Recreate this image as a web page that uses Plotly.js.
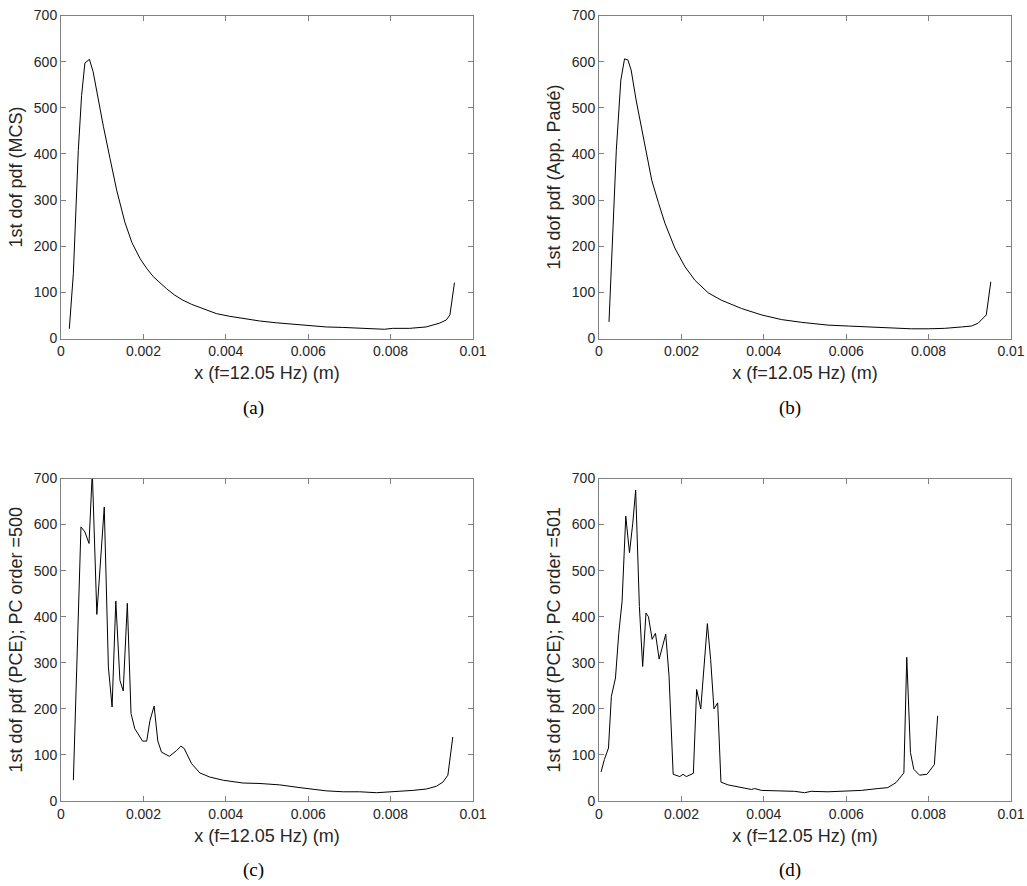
<!DOCTYPE html>
<html>
<head>
<meta charset="utf-8">
<script src="https://cdn.plot.ly/plotly-3.0.1.min.js"></script>
<style>html,body{margin:0;padding:0;background:#fff;}#chart{width:1027px;height:886px;}</style>
</head>
<body>
<div id="chart"></div>
<script>
// Panel (a): MCS
const xA = [0.000202,0.0003,0.00042,0.0005,0.00058,0.00069,0.00078,0.00091,0.00103,0.00119,0.00135,0.00155,0.00172,0.00192,0.00208,0.00224,0.00240,0.00256,0.00276,0.00296,0.00317,0.00337,0.00361,0.00377,0.0041,0.0045,0.00482,0.00523,0.00563,0.00603,0.00644,0.00684,0.00725,0.00765,0.00785,0.00805,0.00846,0.00886,0.00906,0.00918,0.00935,0.00944,0.00955];
const yA = [21,141,408,527,597,605,578,513,459,390,322,252,208,173,152,134,120,108,94,83,74,67,60,54,48,42,38,34,31,27,25,24,22,21,20,22,22,25,29,33,40,51,121];

// Panel (b): App. Padé
const xB = [0.000243,0.00042,0.00053,0.00062,0.0007,0.00078,0.0009,0.00103,0.00116,0.00128,0.00144,0.0016,0.00184,0.00209,0.00233,0.00265,0.00297,0.00346,0.00395,0.00443,0.00492,0.00556,0.00605,0.00653,0.00677,0.00718,0.00758,0.00799,0.00839,0.0088,0.00904,0.0092,0.0094,0.00951];
const yB = [36,408,560,606,604,582,517,459,396,343,295,250,196,155,126,99,83,65,51,41,35,29,27,25,23,22,21,21,22,25,27,33,51,123];

// Panel (c): PCE, PC order = 500
const xC = [0.0003,0.000485,0.00058,0.00068,0.00076,0.00087,0.00105,0.00115,0.00124,0.00133,0.00143,0.00151,0.00161,0.0017,0.00179,0.00198,0.00208,0.00216,0.00226,0.00235,0.00244,0.00263,0.0028,0.00291,0.00299,0.00317,0.00337,0.00361,0.00394,0.00442,0.00483,0.00531,0.0058,0.00612,0.00644,0.00685,0.00725,0.00766,0.00806,0.00822,0.00854,0.00887,0.00911,0.00927,0.00939,0.00951];
const yC = [45,595,584,559,715,405,638,291,204,434,262,239,429,190,157,130,130,175,206,130,106,97,109,119,114,81,61,52,45,39,38,35,29,26,22,20,20,18,20,21,23,26,32,41,56,139];

// Panel (d): PCE, PC order = 501
const xD = [0.00005,0.00013,0.00023,0.0003,0.0004,0.00048,0.00056,0.00065,0.00074,0.00082,0.00089,0.00098,0.00106,0.00114,0.0012,0.00129,0.00137,0.00146,0.00162,0.0017,0.0018,0.00196,0.00204,0.00212,0.00229,0.00237,0.00247,0.00263,0.00271,0.00279,0.00288,0.00296,0.00313,0.00338,0.0037,0.00378,0.00394,0.00435,0.00475,0.00499,0.00515,0.00556,0.00596,0.00637,0.00677,0.00701,0.00721,0.0074,0.00747,0.00756,0.00764,0.00778,0.00796,0.00814,0.00822];
const yD = [63,90,115,227,267,364,433,618,539,603,675,422,292,408,400,351,364,308,362,271,58,53,58,53,60,242,200,385,307,200,213,41,35,30,25,27,23,22,21,18,21,20,22,23,27,29,40,61,312,105,69,56,58,79,185];

const yTitles = ['1st dof pdf (MCS)', '1st dof pdf (App. Padé)', '1st dof pdf (PCE); PC order =500', '1st dof pdf (PCE); PC order =501'];
const xTitle = 'x (f=12.05 Hz) (m)';
const captions = ['(a)', '(b)', '(c)', '(d)'];
const xTickVals = [0, 0.002, 0.004, 0.006, 0.008, 0.01];
const xTickText = ['0', '0.002', '0.004', '0.006', '0.008', '0.01'];
const yTickVals = [0, 100, 200, 300, 400, 500, 600, 700];

const series = [[xA, yA], [xB, yB], [xC, yC], [xD, yD]];
const W = 1027, H = 886;
const xDom = [[61 / W, 473 / W], [599 / W, 1011 / W]];
const yDom = [[1 - 338.5 / H, 1 - 15.5 / H], [1 - 801 / H, 1 - 478.5 / H]];
const capPos = [[253, 408], [790, 408], [253, 870], [790, 870]];

const SANS = 'Arial, Liberation Sans, sans-serif';
const SERIF = 'Times New Roman, Liberation Serif, serif';
const traces = [];
const layout = {
  width: W, height: H,
  margin: {l: 0, r: 0, t: 0, b: 0},
  paper_bgcolor: '#fff', plot_bgcolor: '#fff',
  showlegend: false,
  font: {family: SANS, size: 14, color: '#262626'},
  annotations: []
};

series.forEach((s, i) => {
  const n = i + 1;
  const xa = n === 1 ? 'x' : 'x' + n;
  const ya = n === 1 ? 'y' : 'y' + n;
  traces.push({x: s[0], y: s[1], xaxis: xa, yaxis: ya, type: 'scatter', mode: 'lines',
    line: {color: '#000', width: 1}, hoverinfo: 'skip'});
  const col = i % 2, row = Math.floor(i / 2);
  const common = {showline: true, linecolor: '#808080', linewidth: 1, mirror: 'ticks',
    ticks: 'inside', ticklen: 5, tickcolor: '#808080', showgrid: false, zeroline: false,
    tickfont: {family: SANS, size: 14, color: '#262626'}, fixedrange: true};
  layout['xaxis' + (n === 1 ? '' : n)] = Object.assign({}, common, {
    domain: xDom[col], anchor: ya, range: [0, 0.01],
    tickmode: 'array', tickvals: xTickVals, ticktext: xTickText,
    title: {text: xTitle, font: {family: SANS, size: 18, color: '#262626'}, standoff: 8}
  });
  layout['yaxis' + (n === 1 ? '' : n)] = Object.assign({}, common, {
    domain: yDom[row], anchor: xa, range: [0, 700],
    tickmode: 'array', tickvals: yTickVals,
    title: {text: yTitles[i], font: {family: SANS, size: 18, color: '#262626'}, standoff: 6}
  });
  layout.annotations.push({text: captions[i], xref: 'paper', yref: 'paper',
    x: capPos[i][0] / W, y: 1 - capPos[i][1] / H, xanchor: 'center', yanchor: 'middle',
    showarrow: false, font: {family: SERIF, size: 19, color: '#000'}});
});

Plotly.newPlot('chart', traces, layout, {staticPlot: true, displayModeBar: false});
</script>
</body>
</html>
